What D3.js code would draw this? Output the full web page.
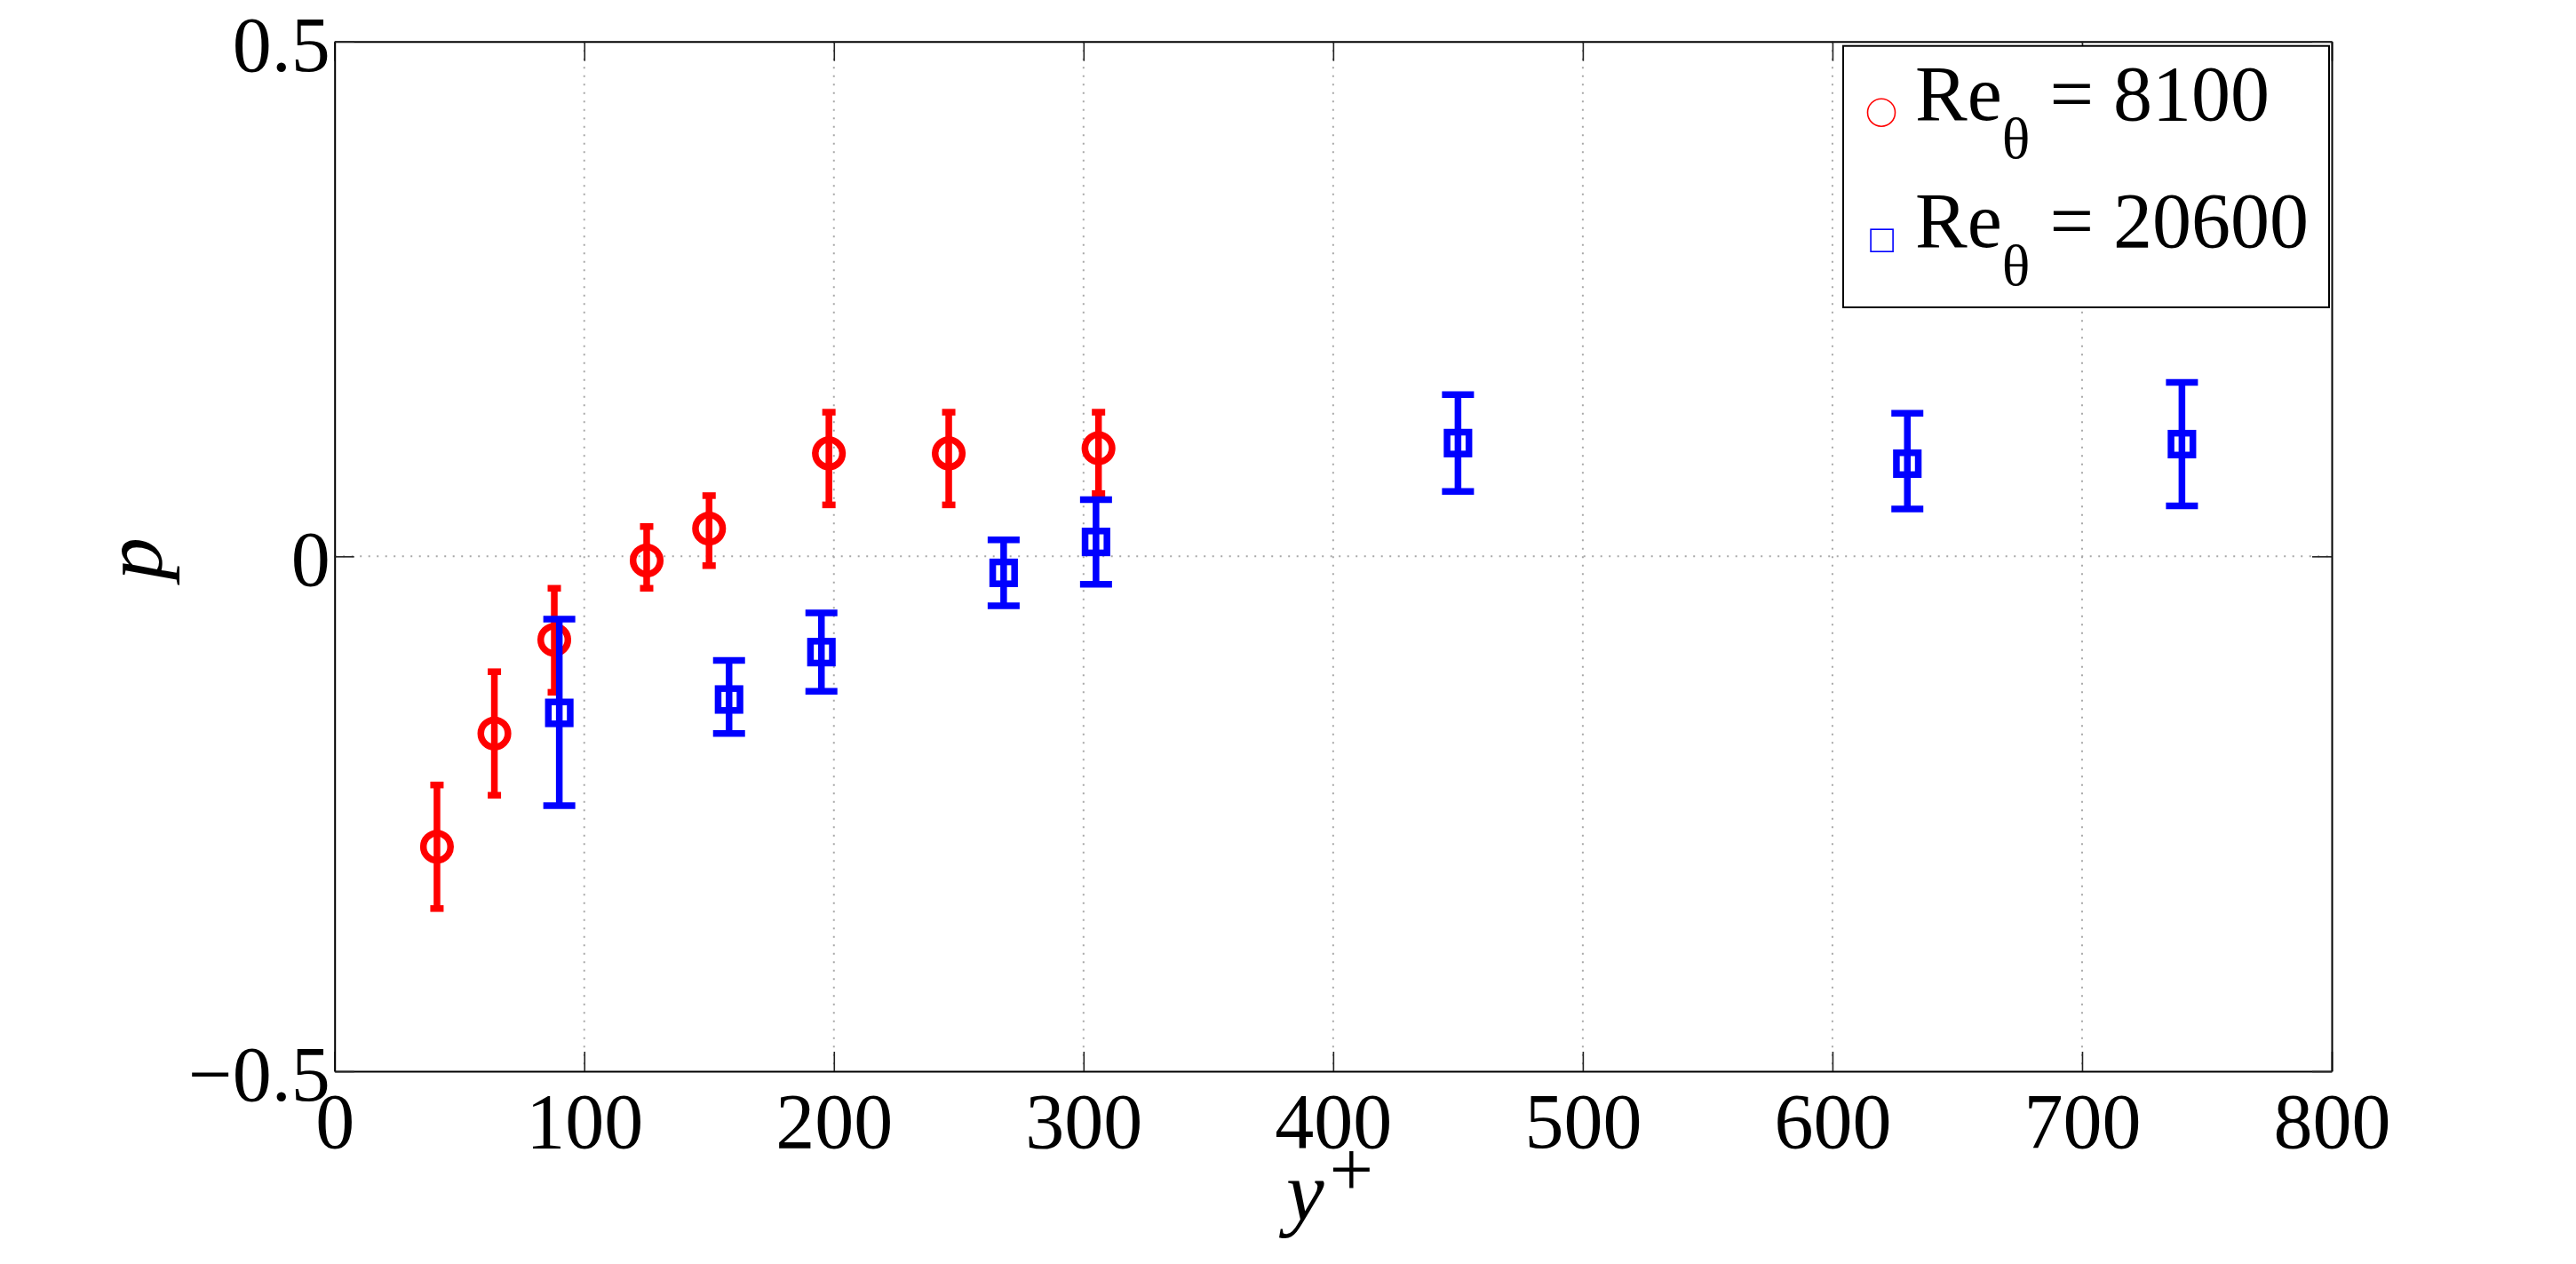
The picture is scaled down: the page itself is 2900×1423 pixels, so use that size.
<!DOCTYPE html>
<html>
<head>
<meta charset="utf-8">
<script src="https://cdn.jsdelivr.net/npm/d3@7/dist/d3.min.js"></script>
<style>
  body { margin: 0; background: #fff; }
  svg { display: block; font-family: "Liberation Serif", "Times New Roman", serif; }
</style>
</head>
<body>
<svg id="chart" width="2900" height="1423"></svg>
<script>
// data: y+ position, p value, lower / upper end of error bar
var re8100Yplus = [41, 64, 88, 125, 150, 198, 246, 306];
var re8100P     = [-0.282, -0.172, -0.081, -0.004, 0.027, 0.100, 0.100, 0.105];
var re8100Lower = [-0.342, -0.232, -0.132, -0.031, -0.009, 0.050, 0.050, 0.061];
var re8100Upper = [-0.222, -0.112, -0.031, 0.029, 0.059, 0.140, 0.140, 0.140];

var re20600Yplus = [90, 158, 195, 268, 305, 450, 630, 740];
var re20600P     = [-0.152, -0.139, -0.093, -0.016, 0.014, 0.110, 0.090, 0.109];
var re20600Lower = [-0.242, -0.172, -0.131, -0.048, -0.027, 0.063, 0.046, 0.049];
var re20600Upper = [-0.061, -0.101, -0.055, 0.016, 0.055, 0.157, 0.139, 0.169];

var seriesNames = ["8100", "20600"];
var xTicks = [0, 100, 200, 300, 400, 500, 600, 700, 800];
var yTicks = [-0.5, 0, 0.5];
var yTickLabels = ["\u22120.5", "0", "0.5"];

var margin = {left: 376.7, top: 46.7, right: 2625, bottom: 1206};

var x = d3.scaleLinear().domain([0, 800]).range([margin.left, margin.right]);
var y = d3.scaleLinear().domain([-0.5, 0.5]).range([margin.bottom, margin.top]);

var svg = d3.select("#chart");

// dotted grid
var grid = svg.append("g").attr("stroke", "#a8a8a8").attr("stroke-width", 2)
  .attr("stroke-dasharray", "2 7.5");
grid.selectAll("line.gx").data(xTicks.slice(1, -1)).enter().append("line")
  .attr("x1", function(d){ return x(d); }).attr("x2", function(d){ return x(d); })
  .attr("y1", y(0.5)).attr("y2", y(-0.5));
grid.selectAll("line.gy").data(yTicks.slice(1, -1)).enter().append("line")
  .attr("y1", function(d){ return y(d); }).attr("y2", function(d){ return y(d); })
  .attr("x1", x(0)).attr("x2", x(800));

// axes, ticks pointing inwards on all four sides
function styleAxis(g){
  g.select(".domain").attr("stroke", "#000").attr("stroke-width", 2);
  g.selectAll(".tick line").attr("stroke", "#222").attr("stroke-width", 1.6);
  g.selectAll("text").attr("fill", "#000").style("font-size", "88px")
    .style("font-family", "'Liberation Serif', 'Times New Roman', serif");
}

svg.append("g").attr("transform", "translate(0," + margin.bottom + ")")
  .call(d3.axisBottom(x).tickValues(xTicks).tickSizeInner(-22).tickSizeOuter(0).tickPadding(24))
  .call(styleAxis);
svg.append("g").attr("transform", "translate(0," + margin.top + ")")
  .call(d3.axisTop(x).tickValues(xTicks).tickSizeInner(-22).tickSizeOuter(0).tickFormat(""))
  .call(styleAxis);
svg.append("g").attr("transform", "translate(" + margin.left + ",0)")
  .call(d3.axisLeft(y).tickValues(yTicks).tickSizeInner(-22).tickSizeOuter(0).tickPadding(5)
    .tickFormat(function(d, i){ return yTickLabels[i]; }))
  .call(styleAxis)
  .selectAll("text").attr("dy", "0.37em");
svg.append("g").attr("transform", "translate(" + margin.right + ",0)")
  .call(d3.axisRight(y).tickValues(yTicks).tickSizeInner(-22).tickSizeOuter(0).tickFormat(""))
  .call(styleAxis);

// one errorbar series: bars, caps, markers
function drawSeries(xs, ps, lo, hi, color, capHalf, shape){
  var rows = xs.map(function(v, i){ return {x: v, p: ps[i], lo: lo[i], hi: hi[i]}; });
  var g = svg.append("g").attr("stroke", color).attr("fill", "none").attr("stroke-width", 7.5);
  var bars = g.selectAll("g.bar").data(rows).enter().append("g");
  bars.append("line")
    .attr("x1", function(d){ return x(d.x); }).attr("x2", function(d){ return x(d.x); })
    .attr("y1", function(d){ return y(d.lo); }).attr("y2", function(d){ return y(d.hi); });
  ["lo", "hi"].forEach(function(k){
    bars.append("line")
      .attr("x1", function(d){ return x(d.x) - capHalf; }).attr("x2", function(d){ return x(d.x) + capHalf; })
      .attr("y1", function(d){ return y(d[k]); }).attr("y2", function(d){ return y(d[k]); });
  });
  if (shape === "circle") {
    bars.append("circle").attr("cx", function(d){ return x(d.x); })
      .attr("cy", function(d){ return y(d.p); }).attr("r", 15.3);
  } else {
    bars.append("rect").attr("x", function(d){ return x(d.x) - 12.3; })
      .attr("y", function(d){ return y(d.p) - 12.3; }).attr("width", 24.6).attr("height", 24.6);
  }
}

drawSeries(re8100Yplus, re8100P, re8100Lower, re8100Upper, "#ff0000", 7.5, "circle");
drawSeries(re20600Yplus, re20600P, re20600Lower, re20600Upper, "#0000ff", 18, "square");

// axis labels
svg.append("text").attr("transform", "translate(182,629) rotate(-90)")
  .attr("text-anchor", "middle").style("font-size", "96px").style("font-style", "italic")
  .text("p");
var xl = svg.append("text").attr("x", 1497).attr("y", 1374).attr("text-anchor", "middle")
  .style("font-size", "96px");
xl.append("tspan").style("font-style", "italic").text("y");
xl.append("tspan").attr("dx", 6).attr("dy", -28).style("font-size", "88px").text("+");

// legend
var legend = svg.append("g");
legend.append("rect").attr("x", 2075).attr("y", 51.7).attr("width", 547).attr("height", 294.3)
  .attr("fill", "#fff").attr("stroke", "#000").attr("stroke-width", 2);
var rowsY = [135, 278.3];
seriesNames.forEach(function(name, i){
  var color = i === 0 ? "#ff0000" : "#0000ff";
  if (i === 0) {
    legend.append("circle").attr("cx", 2118).attr("cy", rowsY[i] - 8.3).attr("r", 15.5)
      .attr("fill", "none").attr("stroke", color).attr("stroke-width", 1.6);
  } else {
    legend.append("rect").attr("x", 2118.6 - 12.5).attr("y", rowsY[i] - 7.6 - 12.5)
      .attr("width", 25).attr("height", 25)
      .attr("fill", "none").attr("stroke", color).attr("stroke-width", 1.6);
  }
  var t = legend.append("text").attr("x", 2156).attr("y", rowsY[i]).style("font-size", "88px");
  t.append("tspan").text("Re");
  t.append("tspan").attr("dy", 43).style("font-size", "66px").text("\u03b8");
  t.append("tspan").attr("dy", -43).text(" = " + name);
});
</script>
</body>
</html>
